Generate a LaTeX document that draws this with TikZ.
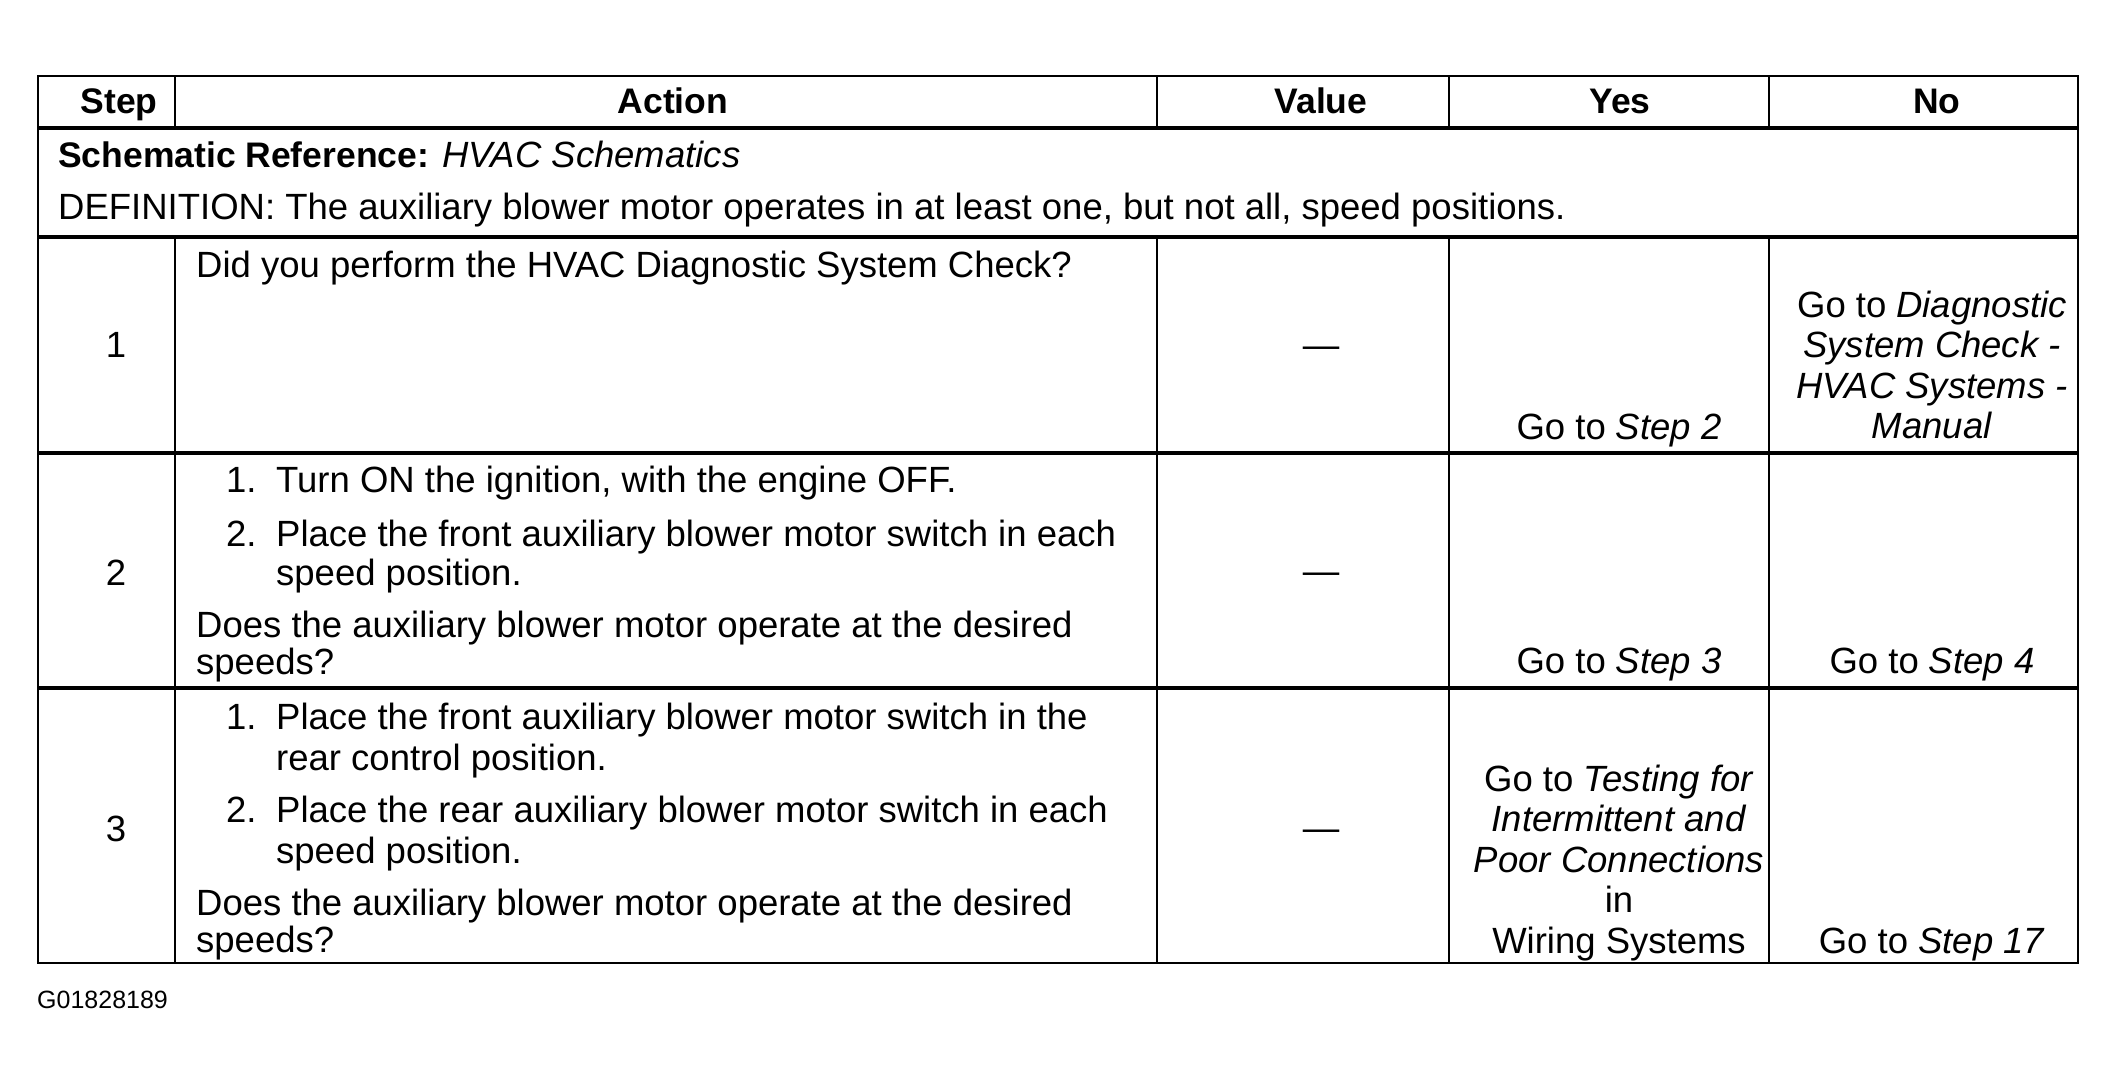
\documentclass[tikz,border=0pt]{standalone}
\usepackage{fontspec}
\setmainfont{Liberation Sans}
\begin{document}
\begin{tikzpicture}[x=1pt,y=-1pt,
  hrule/.style={line width=3.2pt},
  vrule/.style={line width=2.6pt},
  frame/.style={line width=2.6pt},
  lt/.style={inner sep=0pt, anchor=base west, font=\fontsize{36.5}{40}\selectfont},
  ct/.style={inner sep=0pt, anchor=base, font=\fontsize{36.5}{40}\selectfont},
  hd/.style={inner sep=0pt, anchor=base, font=\fontsize{35.5}{40}\selectfont\bfseries},
  gid/.style={inner sep=0pt, anchor=base west, font=\fontsize{25}{28}\selectfont}]
\useasboundingbox[fill=white] (0,0) rectangle (2116,1083);
% table frame and rules
\draw[frame] (38,76) rectangle (2078,963);
\foreach \yy in {128,237,453,688} \draw[hrule] (38,\yy) -- (2078,\yy);
\foreach \xx in {175,1157,1449,1769} {
  \draw[vrule] (\xx,76) -- (\xx,128);
  \draw[vrule] (\xx,237) -- (\xx,963);
}
% header
\node[hd] (hStep) at (119,114) {Step};
\node[hd] (hAction) at (673,114) {Action};
\node[hd] (hValue) at (1321,114) {Value};
\node[hd] (hYes) at (1620,114) {Yes};
\node[hd] (hNo) at (1937,114) {No};
% schematic reference
\node[lt] (schref) at (58,168) {\fontsize{35.5}{40}\selectfont\bfseries Schematic Reference: \normalfont\fontsize{36.5}{40}\selectfont\itshape HVAC Schematics};
\node[lt] (defn) at (58,220) {DEFINITION: The auxiliary blower motor operates in at least one, but not all, speed positions.};
% row 1
\node[ct] (s1) at (116,357) {1};
\node[lt] (a1) at (196,277) {Did you perform the HVAC Diagnostic System Check?};
\node[ct] (v1) at (1321,357) {\textemdash};
\node[ct] (y1) at (1619,439) {Go to \textit{Step 2}};
\node[ct] (n1a) at (1932,317) {Go to \textit{Diagnostic}};
\node[ct] (n1b) at (1932,357) {\textit{System Check -}};
\node[ct] (n1c) at (1932,398) {\textit{HVAC Systems -}};
\node[ct] (n1d) at (1932,438) {\textit{Manual}};
% row 2
\node[ct] (s2) at (116,585) {2};
\node[lt] (a2n1) at (226,492) {1.};
\node[lt] (a2i1) at (276,492) {Turn ON the ignition, with the engine OFF.};
\node[lt] (a2n2) at (226,546) {2.};
\node[lt] (a2i2) at (276,546) {Place the front auxiliary blower motor switch in each};
\node[lt] (a2i2b) at (276,585) {speed position.};
\node[lt] (a2q) at (196,637) {Does the auxiliary blower motor operate at the desired};
\node[lt] (a2q2) at (196,674) {speeds?};
\node[ct] (v2) at (1321,583) {\textemdash};
\node[ct] (y2) at (1619,673) {Go to \textit{Step 3}};
\node[ct] (n2) at (1932,673) {Go to \textit{Step 4}};
% row 3
\node[ct] (s3) at (116,841) {3};
\node[lt] (a3n1) at (226,729) {1.};
\node[lt] (a3i1) at (276,729) {Place the front auxiliary blower motor switch in the};
\node[lt] (a3i1b) at (276,770) {rear control position.};
\node[lt] (a3n2) at (226,822) {2.};
\node[lt] (a3i2) at (276,822) {Place the rear auxiliary blower motor switch in each};
\node[lt] (a3i2b) at (276,863) {speed position.};
\node[lt] (a3q) at (196,915) {Does the auxiliary blower motor operate at the desired};
\node[lt] (a3q2) at (196,952) {speeds?};
\node[ct] (v3) at (1321,840) {\textemdash};
\node[ct] (y3a) at (1619,791) {Go to \textit{Testing for}};
\node[ct] (y3b) at (1619,831) {\textit{Intermittent and}};
\node[ct] (y3c) at (1619,872) {\textit{Poor Connections}};
\node[ct] (y3d) at (1619,912) {in};
\node[ct] (y3e) at (1619,953) {Wiring Systems};
\node[ct] (n3) at (1932,953) {Go to \textit{Step 17}};
% figure id
\node[gid] (figid) at (37,1008) {G01828189};
\end{tikzpicture}
\end{document}
